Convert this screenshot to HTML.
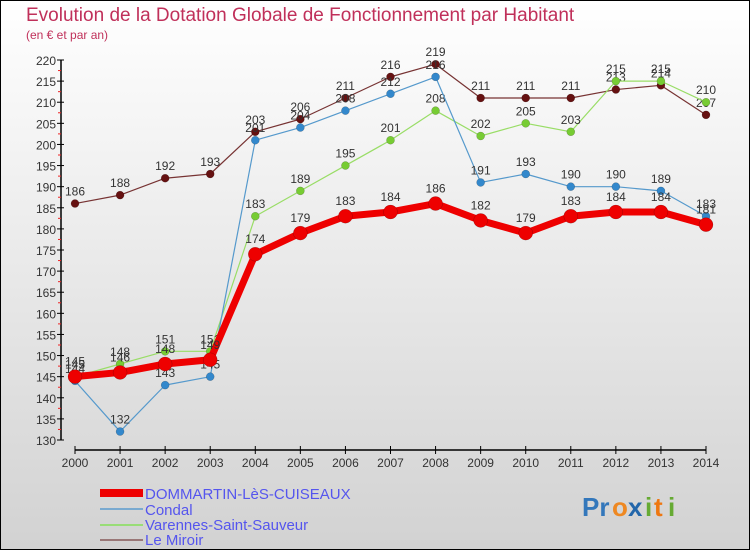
<!DOCTYPE html>
<html><head><meta charset="utf-8"><style>
html,body{margin:0;padding:0}
body{width:750px;height:550px;overflow:hidden;font-family:"Liberation Sans",sans-serif}
</style></head><body>
<svg id="chart" width="750" height="550" xmlns="http://www.w3.org/2000/svg">
<defs><linearGradient id="bg" x1="0" y1="0" x2="0" y2="1"><stop offset="0" stop-color="#ffffff"/><stop offset="1" stop-color="#d2d2d2"/></linearGradient></defs>
<rect x="0.5" y="0.5" width="749" height="549" fill="url(#bg)" stroke="#000" stroke-width="1"/>
<text x="26" y="21" font-size="19" fill="#c0305a">Evolution de la Dotation Globale de Fonctionnement par Habitant</text>
<text x="26" y="39" font-size="12" fill="#c0305a">(en € et par an)</text>
<g id="axes"></g>
<g id="series"></g>
<g id="legend">
<rect x="100" y="489" width="43" height="8" fill="#ee0000"/>
<text x="145" y="499" font-size="15" fill="#5555ee">DOMMARTIN-LèS-CUISEAUX</text>
<rect x="100" y="508" width="43" height="2" fill="#7aaad0"/>
<text x="145" y="515" font-size="15" fill="#5555ee">Condal</text>
<rect x="100" y="524" width="43" height="2" fill="#99dd77"/>
<text x="145" y="530" font-size="15" fill="#5555ee">Varennes-Saint-Sauveur</text>
<rect x="100" y="539" width="43" height="2" fill="#997777"/>
<text x="145" y="545" font-size="15" fill="#5555ee">Le Miroir</text>
</g>
<g font-size="26" font-weight="bold">
<text x="582" y="516" fill="#3377bb">Pr</text><text x="612" y="516" fill="#ee8822">o</text><text x="628" y="516" fill="#2266aa">x</text><text x="645" y="516" fill="#66aa33">i</text><text x="654" y="516" fill="#ee7711">t</text><text x="668" y="516" fill="#66aa33">i</text>
</g>
</svg>
<script>
const years=[2000,2001,2002,2003,2004,2005,2006,2007,2008,2009,2010,2011,2012,2013,2014];
const dommartin=[145,146,148,149,174,179,183,184,186,182,179,183,184,184,181];
const condal=[144,132,143,145,201,204,208,212,216,191,193,190,190,189,183];
const varennes=[145,148,151,151,183,189,195,201,208,202,205,203,215,215,210];
const miroir=[186,188,192,193,203,206,211,216,219,211,211,211,213,214,207];
const yTicks=[130,135,140,145,150,155,160,165,170,175,180,185,190,195,200,205,210,215,220];
const NS='http://www.w3.org/2000/svg';
const yMin=130,yMax=220,yTop=60,yBot=440,xL=75,xR=706;
function y(v){return yBot-(v-yMin)/(yMax-yMin)*(yBot-yTop);}
function x(i){return xL+i*(xR-xL)/(years.length-1);}
function mk(tag,attrs,parent){const e=document.createElementNS(NS,tag);for(const k in attrs)e.setAttribute(k,attrs[k]);parent.appendChild(e);return e;}
const axes=document.getElementById('axes');
const ya=mk('line',{x1:61,y1:yTop,x2:61,y2:yBot,stroke:'#000','stroke-width':1.5},axes);


yTicks.forEach(v=>{
  mk('line',{x1:57,y1:y(v),x2:64,y2:y(v),stroke:'#000'},axes);
  if(v<yMax) mk('line',{x1:58,y1:y(v+2.5),x2:61,y2:y(v+2.5),stroke:'#ee2222'},axes);
  const t=mk('text',{x:56,y:y(v)+5,'font-size':12,'text-anchor':'end',fill:'#333'},axes);
  t.textContent=v;
  
  
});
const xa=mk('line',{x1:xL,y1:450,x2:xR,y2:450,stroke:'#000','stroke-width':1.5},axes);


years.forEach((yr,i)=>{
  mk('line',{x1:x(i),y1:446,x2:x(i),y2:454,stroke:'#000'},axes);
  const t=mk('text',{x:x(i),y:467,'font-size':12,'text-anchor':'middle',fill:'#333'},axes);
  t.textContent=yr;
  
  
});
const S=document.getElementById('series');
function draw(data,name,lc,pc,lw,r){
  const g=mk('g',{},S);
  
  
  const pl=mk('polyline',{points:data.map((v,i)=>x(i)+','+y(v)).join(' '),fill:'none',stroke:lc,'stroke-width':lw,'stroke-linejoin':'round'},g);
  
  
  data.forEach((v,i)=>{
    const c=mk('circle',{cx:x(i),cy:y(v),r:r,fill:pc,stroke:'rgba(0,0,0,0.3)','stroke-width':0.5},g);
    
    
    const t=mk('text',{x:x(i),y:y(v)-r-4,'font-size':12,'text-anchor':'middle',fill:'#333'},g);
    t.textContent=v;
    
    
  });
}
draw(miroir,'le-miroir','#773333','#661111',1.2,4);
draw(varennes,'varennes','#99dd66','#77cc33',1.2,4);
draw(condal,'condal','#5599cc','#3388cc',1.2,4);
draw(dommartin,'dommartin','#ee0000','#ee0000',7,7);
</script>
</body></html>
